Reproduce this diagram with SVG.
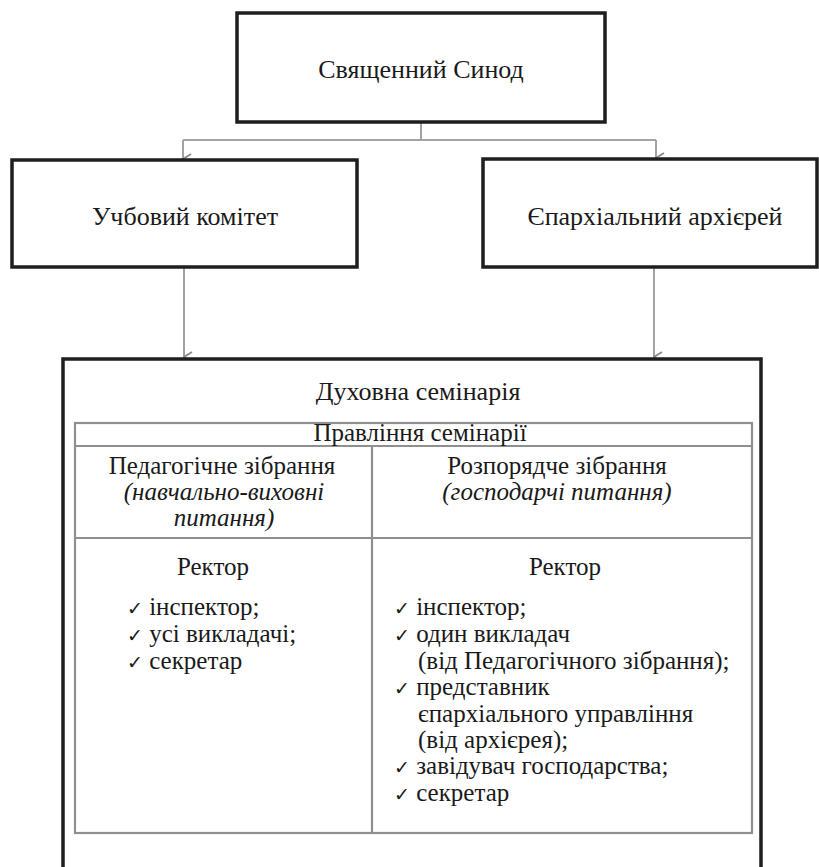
<svg xmlns="http://www.w3.org/2000/svg" width="819" height="867" viewBox="0 0 819 867">
<defs>
<marker id="arr" markerWidth="12" markerHeight="10" refX="6" refY="9" orient="auto-start-reverse" markerUnits="userSpaceOnUse" viewBox="0 0 12 10">
<polyline points="1,1 6,9 11,1" fill="none" stroke="#8a8a8a" stroke-width="1.8"/>
</marker>
<style>
.box{fill:#fff;stroke:#1e1e1e;stroke-width:3.5}
.tbl{fill:none;stroke:#8f8f8f;stroke-width:2.2}
.con{fill:none;stroke:#a3a3a3;stroke-width:2}
text{font-family:'Liberation Serif','Times New Roman',serif;font-size:26px;fill:#1a1a1a}
.c{text-anchor:middle}
.i{font-style:italic}
.t{font-size:25px}
.ck{font-family:'DejaVu Sans',sans-serif;font-size:19px}
</style>
</defs>
<rect width="819" height="867" fill="#fff"/>
<g id="connectors">
<polyline class="con" points="421,122 421,140"/>
<polyline class="con" points="183,140 656,140"/>
<line class="con" x1="183" y1="140" x2="183" y2="159" marker-end="url(#arr)"/>
<line class="con" x1="656" y1="140" x2="656" y2="158" marker-end="url(#arr)"/>
<line class="con" x1="184" y1="268" x2="184" y2="357" marker-end="url(#arr)"/>
<line class="con" x1="654" y1="268" x2="654" y2="357" marker-end="url(#arr)"/>
</g>
<g id="synod">
<rect class="box" x="237" y="13" width="368" height="109"/>
<text class="c" x="421" y="78">Священний Синод</text>
</g>
<g id="committee">
<rect class="box" x="12" y="160" width="345" height="107"/>
<text class="c" x="185" y="225">Учбовий комітет</text>
</g>
<g id="bishop">
<rect class="box" x="483" y="159" width="334" height="108"/>
<text class="c" x="655" y="225">Єпархіальний архієрей</text>
</g>
<g id="seminary">
<rect class="box" x="63" y="359" width="698" height="540"/>
<text class="c" x="418" y="400">Духовна семінарія</text>
<rect class="tbl" x="75" y="423" width="677" height="410"/>
<line class="tbl" x1="75" y1="446" x2="752" y2="446"/>
<line class="tbl" x1="75" y1="538" x2="752" y2="538"/>
<line class="tbl" x1="372" y1="446" x2="372" y2="833"/>
<text class="c t" x="420" y="441">Правління семінарії</text>
<text class="c t" x="222" y="474">Педагогічне зібрання</text>
<text class="c t i" x="224" y="500">(навчально-виховні</text>
<text class="c t i" x="224" y="526">питання)</text>
<text class="c t" x="557" y="474">Розпорядче зібрання</text>
<text class="c t i" x="557" y="500">(господарчі питання)</text>
<text class="c t" x="213" y="575">Ректор</text>
<text class="c t" x="565" y="575">Ректор</text>
<text class="t" x="127" y="615"><tspan class="ck">✓</tspan> інспектор;</text>
<text class="t" x="127" y="642"><tspan class="ck">✓</tspan> усі викладачі;</text>
<text class="t" x="127" y="669"><tspan class="ck">✓</tspan> секретар</text>
<text class="t" x="394" y="615"><tspan class="ck">✓</tspan> інспектор;</text>
<text class="t" x="394" y="642"><tspan class="ck">✓</tspan> один викладач</text>
<text class="t" x="418" y="669">(від Педагогічного зібрання);</text>
<text class="t" x="394" y="695"><tspan class="ck">✓</tspan> представник</text>
<text class="t" x="418" y="722">єпархіального управління</text>
<text class="t" x="418" y="748">(від архієрея);</text>
<text class="t" x="394" y="774"><tspan class="ck">✓</tspan> завідувач господарства;</text>
<text class="t" x="394" y="801"><tspan class="ck">✓</tspan> секретар</text>
</g>
</svg>
